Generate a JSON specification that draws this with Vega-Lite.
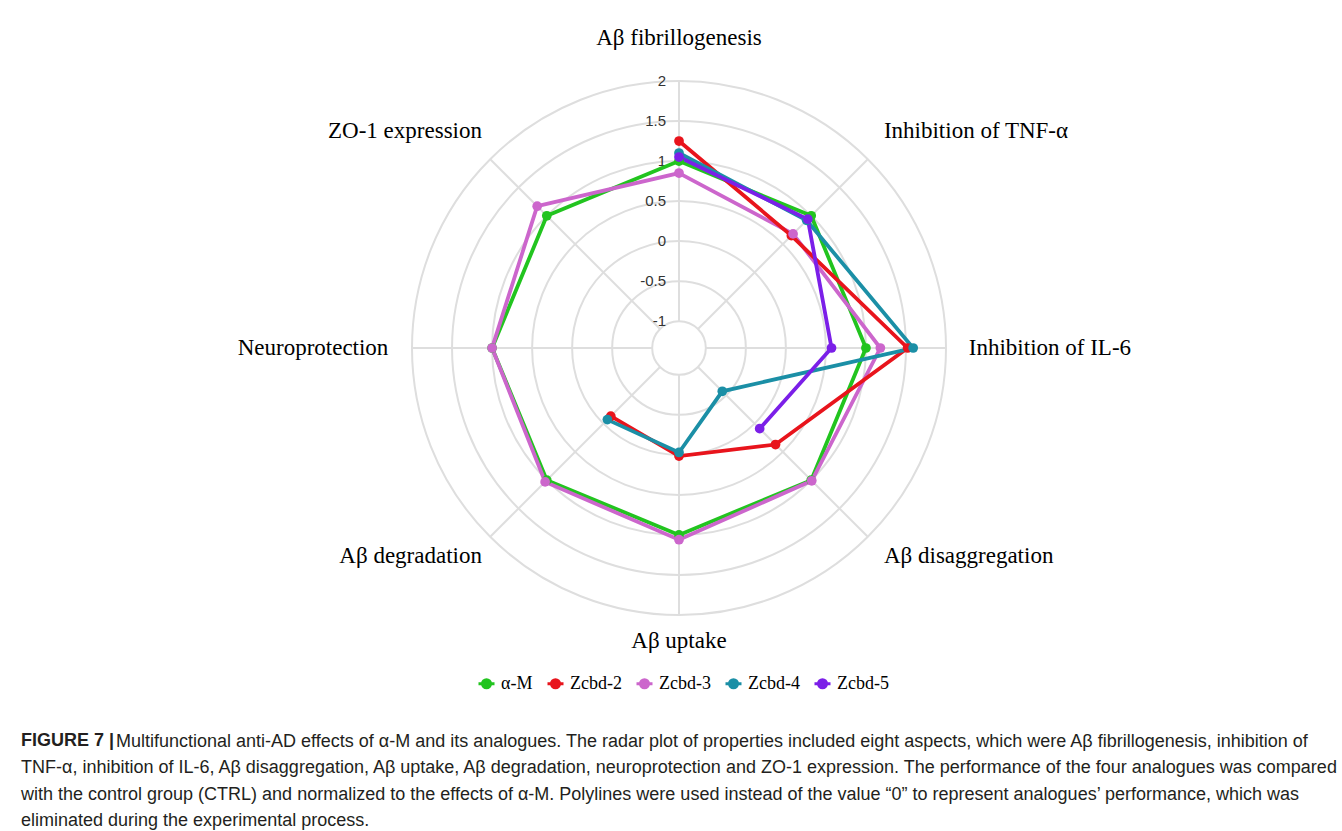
{
  "$schema": "https://vega.github.io/schema/vega-lite/v6.json",
  "autosize": {"type": "none"},
  "width": 534,
  "height": 534,
  "padding": {"left": 412, "top": 81, "right": 396, "bottom": 216},
  "background": "white",
  "config": {"view": {"stroke": null}},
  "datasets": {
    "rings": [{"r": -1}, {"r": -0.5}, {"r": 0}, {"r": 0.5}, {"r": 1}, {"r": 1.5}, {"r": 2}],
    "axes": [
      {"i": 0, "name": "Aβ fibrillogenesis"},
      {"i": 1, "name": "Inhibition of TNF-α"},
      {"i": 2, "name": "Inhibition of IL-6"},
      {"i": 3, "name": "Aβ disaggregation"},
      {"i": 4, "name": "Aβ uptake"},
      {"i": 5, "name": "Aβ degradation"},
      {"i": 6, "name": "Neuroprotection"},
      {"i": 7, "name": "ZO-1 expression"}
    ],
    "vals": [
      {"series": "α-M", "i": 0, "v": 1}, {"series": "α-M", "i": 1, "v": 1}, {"series": "α-M", "i": 2, "v": 1}, {"series": "α-M", "i": 3, "v": 1},
      {"series": "α-M", "i": 4, "v": 1}, {"series": "α-M", "i": 5, "v": 1}, {"series": "α-M", "i": 6, "v": 1}, {"series": "α-M", "i": 7, "v": 1},
      {"series": "Zcbd-2", "i": 0, "v": 1.25}, {"series": "Zcbd-2", "i": 1, "v": 0.65}, {"series": "Zcbd-2", "i": 2, "v": 1.52},
      {"series": "Zcbd-2", "i": 3, "v": 0.37}, {"series": "Zcbd-2", "i": 4, "v": 0.015}, {"series": "Zcbd-2", "i": 5, "v": -0.13},
      {"series": "Zcbd-3", "i": 0, "v": 0.85}, {"series": "Zcbd-3", "i": 1, "v": 0.68}, {"series": "Zcbd-3", "i": 2, "v": 1.18}, {"series": "Zcbd-3", "i": 3, "v": 1.01},
      {"series": "Zcbd-3", "i": 4, "v": 1.06}, {"series": "Zcbd-3", "i": 5, "v": 1.03}, {"series": "Zcbd-3", "i": 6, "v": 1.0}, {"series": "Zcbd-3", "i": 7, "v": 1.17},
      {"series": "Zcbd-4", "i": 0, "v": 1.1}, {"series": "Zcbd-4", "i": 1, "v": 0.92}, {"series": "Zcbd-4", "i": 2, "v": 1.59},
      {"series": "Zcbd-4", "i": 3, "v": -0.57}, {"series": "Zcbd-4", "i": 4, "v": -0.03}, {"series": "Zcbd-4", "i": 5, "v": -0.07},
      {"series": "Zcbd-5", "i": 0, "v": 1.05}, {"series": "Zcbd-5", "i": 1, "v": 0.94}, {"series": "Zcbd-5", "i": 2, "v": 0.57}, {"series": "Zcbd-5", "i": 3, "v": 0.09}
    ]
  },
  "title": {
    "text": "FIGURE 7 |",
    "subtitle": [
      "\u200b\u00a0\u00a0\u00a0\u00a0\u00a0\u00a0\u00a0\u00a0\u00a0\u00a0\u00a0\u00a0\u00a0\u00a0\u00a0\u00a0\u00a0\u00a0\u00a0Multifunctional anti-AD effects of α-M and its analogues. The radar plot of properties included eight aspects, which were Aβ fibrillogenesis, inhibition of",
      "TNF-α, inhibition of IL-6, Aβ disaggregation, Aβ uptake, Aβ degradation, neuroprotection and ZO-1 expression. The performance of the four analogues was compared",
      "with the control group (CTRL) and normalized to the effects of α-M. Polylines were used instead of the value “0” to represent analogues’ performance, which was",
      "eliminated during the experimental process."
    ],
    "orient": "bottom",
    "anchor": "start",
    "frame": "group",
    "dx": -391,
    "offset": 38,
    "font": "Liberation Sans",
    "fontWeight": "bold",
    "fontSize": 18,
    "lineHeight": 26.5,
    "color": "#231f20",
    "subtitleFont": "Liberation Sans",
    "subtitleFontSize": 18,
    "subtitleLineHeight": 26.5,
    "subtitleColor": "#231f20",
    "subtitlePadding": -17.5
  },
  "layer": [
    {
      "data": {"name": "rings"},
      "transform": [{"calculate": "datum.r + 1.335", "as": "rho"}],
      "mark": {"type": "point", "shape": "circle", "filled": false, "opacity": 1, "stroke": "#dedede", "strokeWidth": 2},
      "encoding": {
        "x": {"datum": 0, "type": "quantitative", "scale": {"domain": [-3.335, 3.335], "nice": false, "zero": false}, "axis": null},
        "y": {"datum": 0, "type": "quantitative", "scale": {"domain": [-3.335, 3.335], "nice": false, "zero": false}, "axis": null},
        "size": {"field": "rho", "type": "quantitative", "scale": {"type": "pow", "exponent": 2, "domain": [0, 3.335], "range": [0, 285156]}, "legend": null}
      }
    },
    {
      "data": {"name": "axes"},
      "transform": [
        {"calculate": "datum.i * PI / 4", "as": "t"},
        {"calculate": "0.335 * sin(datum.t)", "as": "x1"},
        {"calculate": "0.335 * cos(datum.t)", "as": "y1"},
        {"calculate": "3.335 * sin(datum.t)", "as": "x2"},
        {"calculate": "3.335 * cos(datum.t)", "as": "y2"}
      ],
      "mark": {"type": "rule", "stroke": "#dedede", "strokeWidth": 2},
      "encoding": {
        "x": {"field": "x1", "type": "quantitative"},
        "y": {"field": "y1", "type": "quantitative"},
        "x2": {"field": "x2"},
        "y2": {"field": "y2"}
      }
    },
    {
      "data": {"name": "rings"},
      "transform": [
        {"calculate": "datum.r + 1.335", "as": "ry"},
        {"calculate": "toString(datum.r)", "as": "lab"}
      ],
      "mark": {"type": "text", "align": "right", "baseline": "middle", "dx": -13, "font": "Liberation Sans", "fontSize": 15, "color": "#333333"},
      "encoding": {
        "x": {"datum": 0, "type": "quantitative"},
        "y": {"field": "ry", "type": "quantitative"},
        "text": {"field": "lab", "type": "nominal"}
      }
    },
    {
      "data": {"name": "vals"},
      "transform": [
        {"filter": "datum.series === 'α-M' || datum.series === 'Zcbd-3'"},
        {"calculate": "datum.i * PI / 4", "as": "t"},
        {"calculate": "(datum.v + 1.335) * sin(datum.t)", "as": "px"},
        {"calculate": "(datum.v + 1.335) * cos(datum.t)", "as": "py"}
      ],
      "mark": {"type": "line", "interpolate": "linear-closed", "strokeWidth": 3.8},
      "encoding": {
        "x": {"field": "px", "type": "quantitative"},
        "y": {"field": "py", "type": "quantitative"},
        "order": {"field": "i", "type": "quantitative"},
        "color": {"field": "series", "type": "nominal"}
      }
    },
    {
      "data": {"name": "vals"},
      "transform": [
        {"filter": "datum.series !== 'α-M' && datum.series !== 'Zcbd-3'"},
        {"calculate": "datum.i * PI / 4", "as": "t"},
        {"calculate": "(datum.v + 1.335) * sin(datum.t)", "as": "px"},
        {"calculate": "(datum.v + 1.335) * cos(datum.t)", "as": "py"}
      ],
      "mark": {"type": "line", "strokeWidth": 3.8},
      "encoding": {
        "x": {"field": "px", "type": "quantitative"},
        "y": {"field": "py", "type": "quantitative"},
        "order": {"field": "i", "type": "quantitative"},
        "color": {"field": "series", "type": "nominal"}
      }
    },
    {
      "data": {"name": "vals"},
      "transform": [
        {"calculate": "datum.i * PI / 4", "as": "t"},
        {"calculate": "(datum.v + 1.335) * sin(datum.t)", "as": "px"},
        {"calculate": "(datum.v + 1.335) * cos(datum.t)", "as": "py"}
      ],
      "mark": {"type": "point", "filled": true, "opacity": 1, "size": 95, "shape": "circle"},
      "encoding": {
        "x": {"field": "px", "type": "quantitative"},
        "y": {"field": "py", "type": "quantitative"},
        "color": {
          "field": "series", "type": "nominal",
          "scale": {"domain": ["α-M", "Zcbd-2", "Zcbd-3", "Zcbd-4", "Zcbd-5"], "range": ["#22c41f", "#e8141c", "#cc66cc", "#1b8fa6", "#7b1fe8"]},
          "legend": {
            "title": null,
            "orient": "none",
            "direction": "horizontal",
            "legendX": 65,
            "legendY": 593,
            "symbolType": "M-1,0L1,0M-0.5,0A0.5,0.5,0,1,1,0.5,0A0.5,0.5,0,1,1,-0.5,0Z",
            "symbolSize": 256,
            "symbolStrokeWidth": 3,
            "labelFont": "Liberation Serif",
            "labelFontSize": 18,
            "labelColor": "#000000",
            "labelOffset": 5,
            "columnPadding": 8,
            "encode": {"symbols": {"update": {"fill": {"scale": "color", "field": "value"}, "stroke": {"scale": "color", "field": "value"}, "opacity": {"value": 1}}}}
          }
        }
      }
    },
    {
      "data": {"name": "axes"},
      "transform": [
        {"filter": "datum.i === 0 || datum.i === 4"},
        {"calculate": "datum.i * PI / 4", "as": "t"},
        {"calculate": "3.62 * sin(datum.t)", "as": "lx"},
        {"calculate": "3.62 * cos(datum.t) + (datum.i === 0 ? 0.25 : -0.04)", "as": "ly"}
      ],
      "mark": {"type": "text", "align": "center", "baseline": "middle", "font": "Liberation Serif", "fontSize": 23, "color": "#000000"},
      "encoding": {
        "x": {"field": "lx", "type": "quantitative"},
        "y": {"field": "ly", "type": "quantitative"},
        "text": {"field": "name", "type": "nominal"}
      }
    },
    {
      "data": {"name": "axes"},
      "transform": [
        {"filter": "datum.i >= 1 && datum.i <= 3"},
        {"calculate": "datum.i * PI / 4", "as": "t"},
        {"calculate": "3.62 * sin(datum.t)", "as": "lx"},
        {"calculate": "3.62 * cos(datum.t) + (datum.i === 1 ? 0.15 : datum.i === 3 ? -0.04 : 0)", "as": "ly"}
      ],
      "mark": {"type": "text", "align": "left", "baseline": "middle", "font": "Liberation Serif", "fontSize": 23, "color": "#000000"},
      "encoding": {
        "x": {"field": "lx", "type": "quantitative"},
        "y": {"field": "ly", "type": "quantitative"},
        "text": {"field": "name", "type": "nominal"}
      }
    },
    {
      "data": {"name": "axes"},
      "transform": [
        {"filter": "datum.i >= 5"},
        {"calculate": "datum.i * PI / 4", "as": "t"},
        {"calculate": "datum.i === 6 ? -3.63 : 3.48 * sin(datum.t)", "as": "lx"},
        {"calculate": "datum.i === 6 ? 0 : 3.48 * cos(datum.t) + (datum.i === 7 ? 0.25 : -0.14)", "as": "ly"}
      ],
      "mark": {"type": "text", "align": "right", "baseline": "middle", "font": "Liberation Serif", "fontSize": 23, "color": "#000000"},
      "encoding": {
        "x": {"field": "lx", "type": "quantitative"},
        "y": {"field": "ly", "type": "quantitative"},
        "text": {"field": "name", "type": "nominal"}
      }
    }
  ]
}
